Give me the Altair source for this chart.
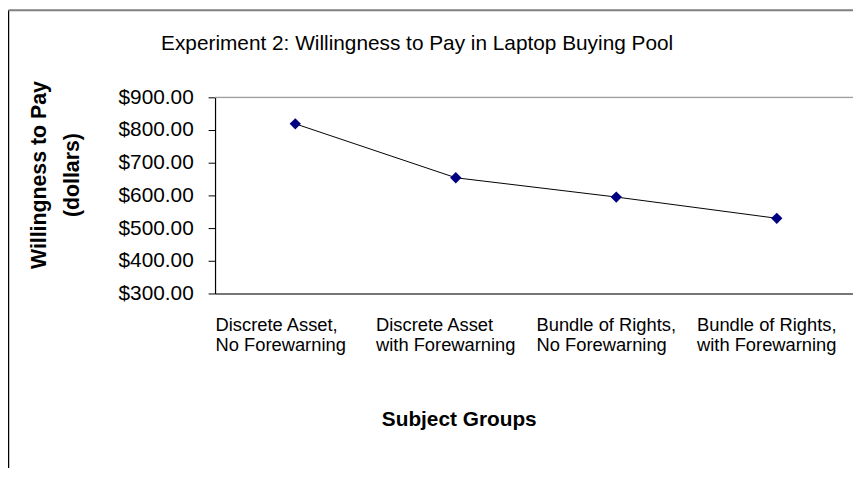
import altair as alt
import pandas as pd

groups = [
    "Discrete Asset,|No Forewarning",
    "Discrete Asset|with Forewarning",
    "Bundle of Rights,|No Forewarning",
    "Bundle of Rights,|with Forewarning",
]
wtp = [819, 654, 595, 530]
y_ticks = [300, 400, 500, 600, 700, 800, 900]
title_text = "Experiment 2: Willingness to Pay in Laptop Buying Pool"

df = pd.DataFrame({"idx": list(range(len(groups))), "group": groups, "wtp": wtp})

label_expr = "split(" + str(groups).replace("'", '"') + "[datum.value], '|')"

FONT = "Liberation Sans"
W, H = 644, 198

base = alt.Chart(df)

x_enc = alt.X(
    "idx:Q",
    scale=alt.Scale(domain=[-0.5, 3.475], nice=False, zero=False),
    axis=alt.Axis(
        values=[0, 1, 2, 3],
        labelExpr=label_expr,
        ticks=False,
        grid=False,
        domainColor="#000000",
        domainWidth=1.2,
        labelFont=FONT,
        labelFontSize=18.5,
        labelColor="#000000",
        labelLineHeight=21,
        labelPadding=22,
        labelAlign="left",
        labelOffset=-81,
        labelBaseline="top",
        labelOverlap=False,
        labelBound=False,
        title="Subject Groups",
        titleFont=FONT,
        titleFontSize=21,
        titleFontWeight="bold",
        titleColor="#000000",
        titleX=246,
        titleY=127,
        titleBaseline="middle",
        titleAlign="center",
    ),
)
y_enc = alt.Y(
    "wtp:Q",
    scale=alt.Scale(domain=[300, 900], nice=False, zero=False),
    axis=alt.Axis(
        values=y_ticks,
        tickCount=7,
        format="$,.2f",
        grid=False,
        tickSize=7,
        tickColor="#000000",
        domainColor="#000000",
        domainWidth=1.2,
        labelFont=FONT,
        labelFontSize=21,
        labelColor="#000000",
        labelPadding=15,
        labelOverlap=False,
        labelBound=False,
        labelFlush=False,
        title=["Willingness to Pay", "(dollars)"],
        titleFont=FONT,
        titleFontSize=21.5,
        titleFontWeight="bold",
        titleColor="#000000",
        titleLineHeight=33,
        titleX=-177,
        titleY=78,
        titleBaseline="middle",
        titleAlign="center",
        titleAngle=270,
    ),
)

line = base.mark_line(color="#000000", strokeWidth=1).encode(x=x_enc, y=y_enc)
points = base.mark_point(
    shape="diamond", filled=True, size=130, color="#000080", opacity=1
).encode(x=x_enc, y=y_enc)

one = alt.Chart(pd.DataFrame({"t": [title_text]}))

top_rule = one.mark_rule(color="#a0a0a0", strokeWidth=1.2).encode(
    x=alt.value(0), x2=alt.value(W), y=alt.value(0)
)
title_mark = one.mark_text(
    font=FONT, fontSize=21, color="#000000", align="center", baseline="middle"
).encode(x=alt.value(421 - 217), y=alt.value(42 - 96), text="t:N")

border_left = one.mark_rule(color="#000000", strokeWidth=1.5).encode(
    x=alt.value(-208.5), y=alt.value(-88), y2=alt.value(H + 200)
)
border_top = one.mark_rule(color="#808080", strokeWidth=2).encode(
    x=alt.value(-208.5), x2=alt.value(W + 20), y=alt.value(-88)
)

chart = (
    alt.layer(line, points, border_left, border_top, top_rule, title_mark)
    .properties(
        width=W,
        height=H,
        padding={"left": 209, "top": 88, "right": 0, "bottom": 174},
        autosize=alt.AutoSizeParams(type="none"),
    )
    .configure_view(stroke=None)
    .configure(background="#ffffff")
)

chart.save("out.html", embed_options={"renderer": "svg", "actions": False})
